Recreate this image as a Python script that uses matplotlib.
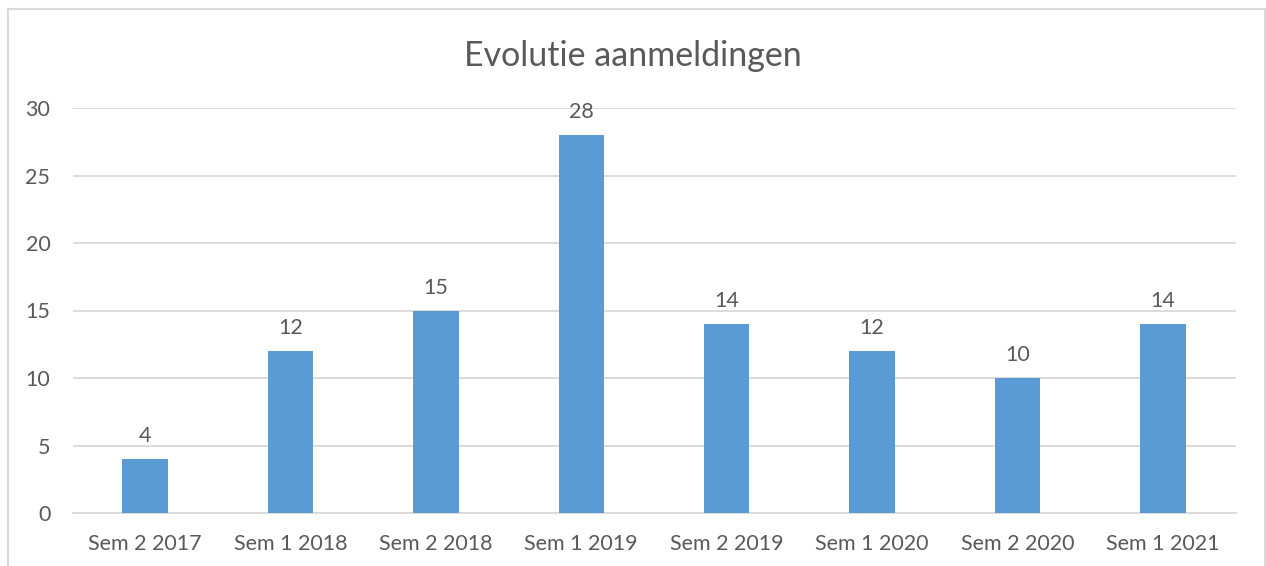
import matplotlib.pyplot as plt
from matplotlib.patches import Rectangle

categories = ["Sem 2 2017", "Sem 1 2018", "Sem 2 2018", "Sem 1 2019",
              "Sem 2 2019", "Sem 1 2020", "Sem 2 2020", "Sem 1 2021"]
values = [4, 12, 15, 28, 14, 12, 10, 14]
yticks = [0, 5, 10, 15, 20, 25, 30]

plt.rcParams['font.family'] = ['Lato', 'DejaVu Sans']
textcol = '#595959'

fig = plt.figure(figsize=(12.66, 5.66), dpi=100)
# chart border
fig.patches.append(Rectangle((8 / 1266, -0.05), (1265 - 8) / 1266, 1.05 - 9 / 566,
                             transform=fig.transFigure, fill=False,
                             edgecolor='#D9D9D9', linewidth=1.5))

ax = fig.add_axes([72.5 / 1266, 1 - 513 / 566, (1235.5 - 72.5) / 1266, (513 - 108) / 566])
x = range(len(categories))
bars = ax.bar(x, values, width=0.313, color='#5B9BD5', zorder=3)
for xi, v in zip(x, values):
    ax.text(xi, v + 0.95, str(v), ha='center', va='bottom', fontsize=15.5, color=textcol)

ax.set_xlim(-0.5, len(categories) - 0.5)
ax.set_ylim(0, 30)
ax.set_yticks(yticks)
ax.set_xticks(list(x))
ax.set_xticklabels(categories)
ax.grid(axis='y', color='#D9D9D9', linewidth=1.3, zorder=0)
ax.tick_params(axis='both', length=0, labelsize=15.5, colors=textcol)
ax.tick_params(axis='y', pad=16)
ax.tick_params(axis='x', pad=15)
for s in ['top', 'right', 'left']:
    ax.spines[s].set_visible(False)
ax.spines['bottom'].set_color('#D9D9D9')
ax.spines['bottom'].set_linewidth(1.3)

fig.text(0.5, 1 - 56 / 566, "Evolutie aanmeldingen", ha='center', va='center',
         fontsize=24.5, color=textcol)

fig.savefig('out.png', dpi=100)
